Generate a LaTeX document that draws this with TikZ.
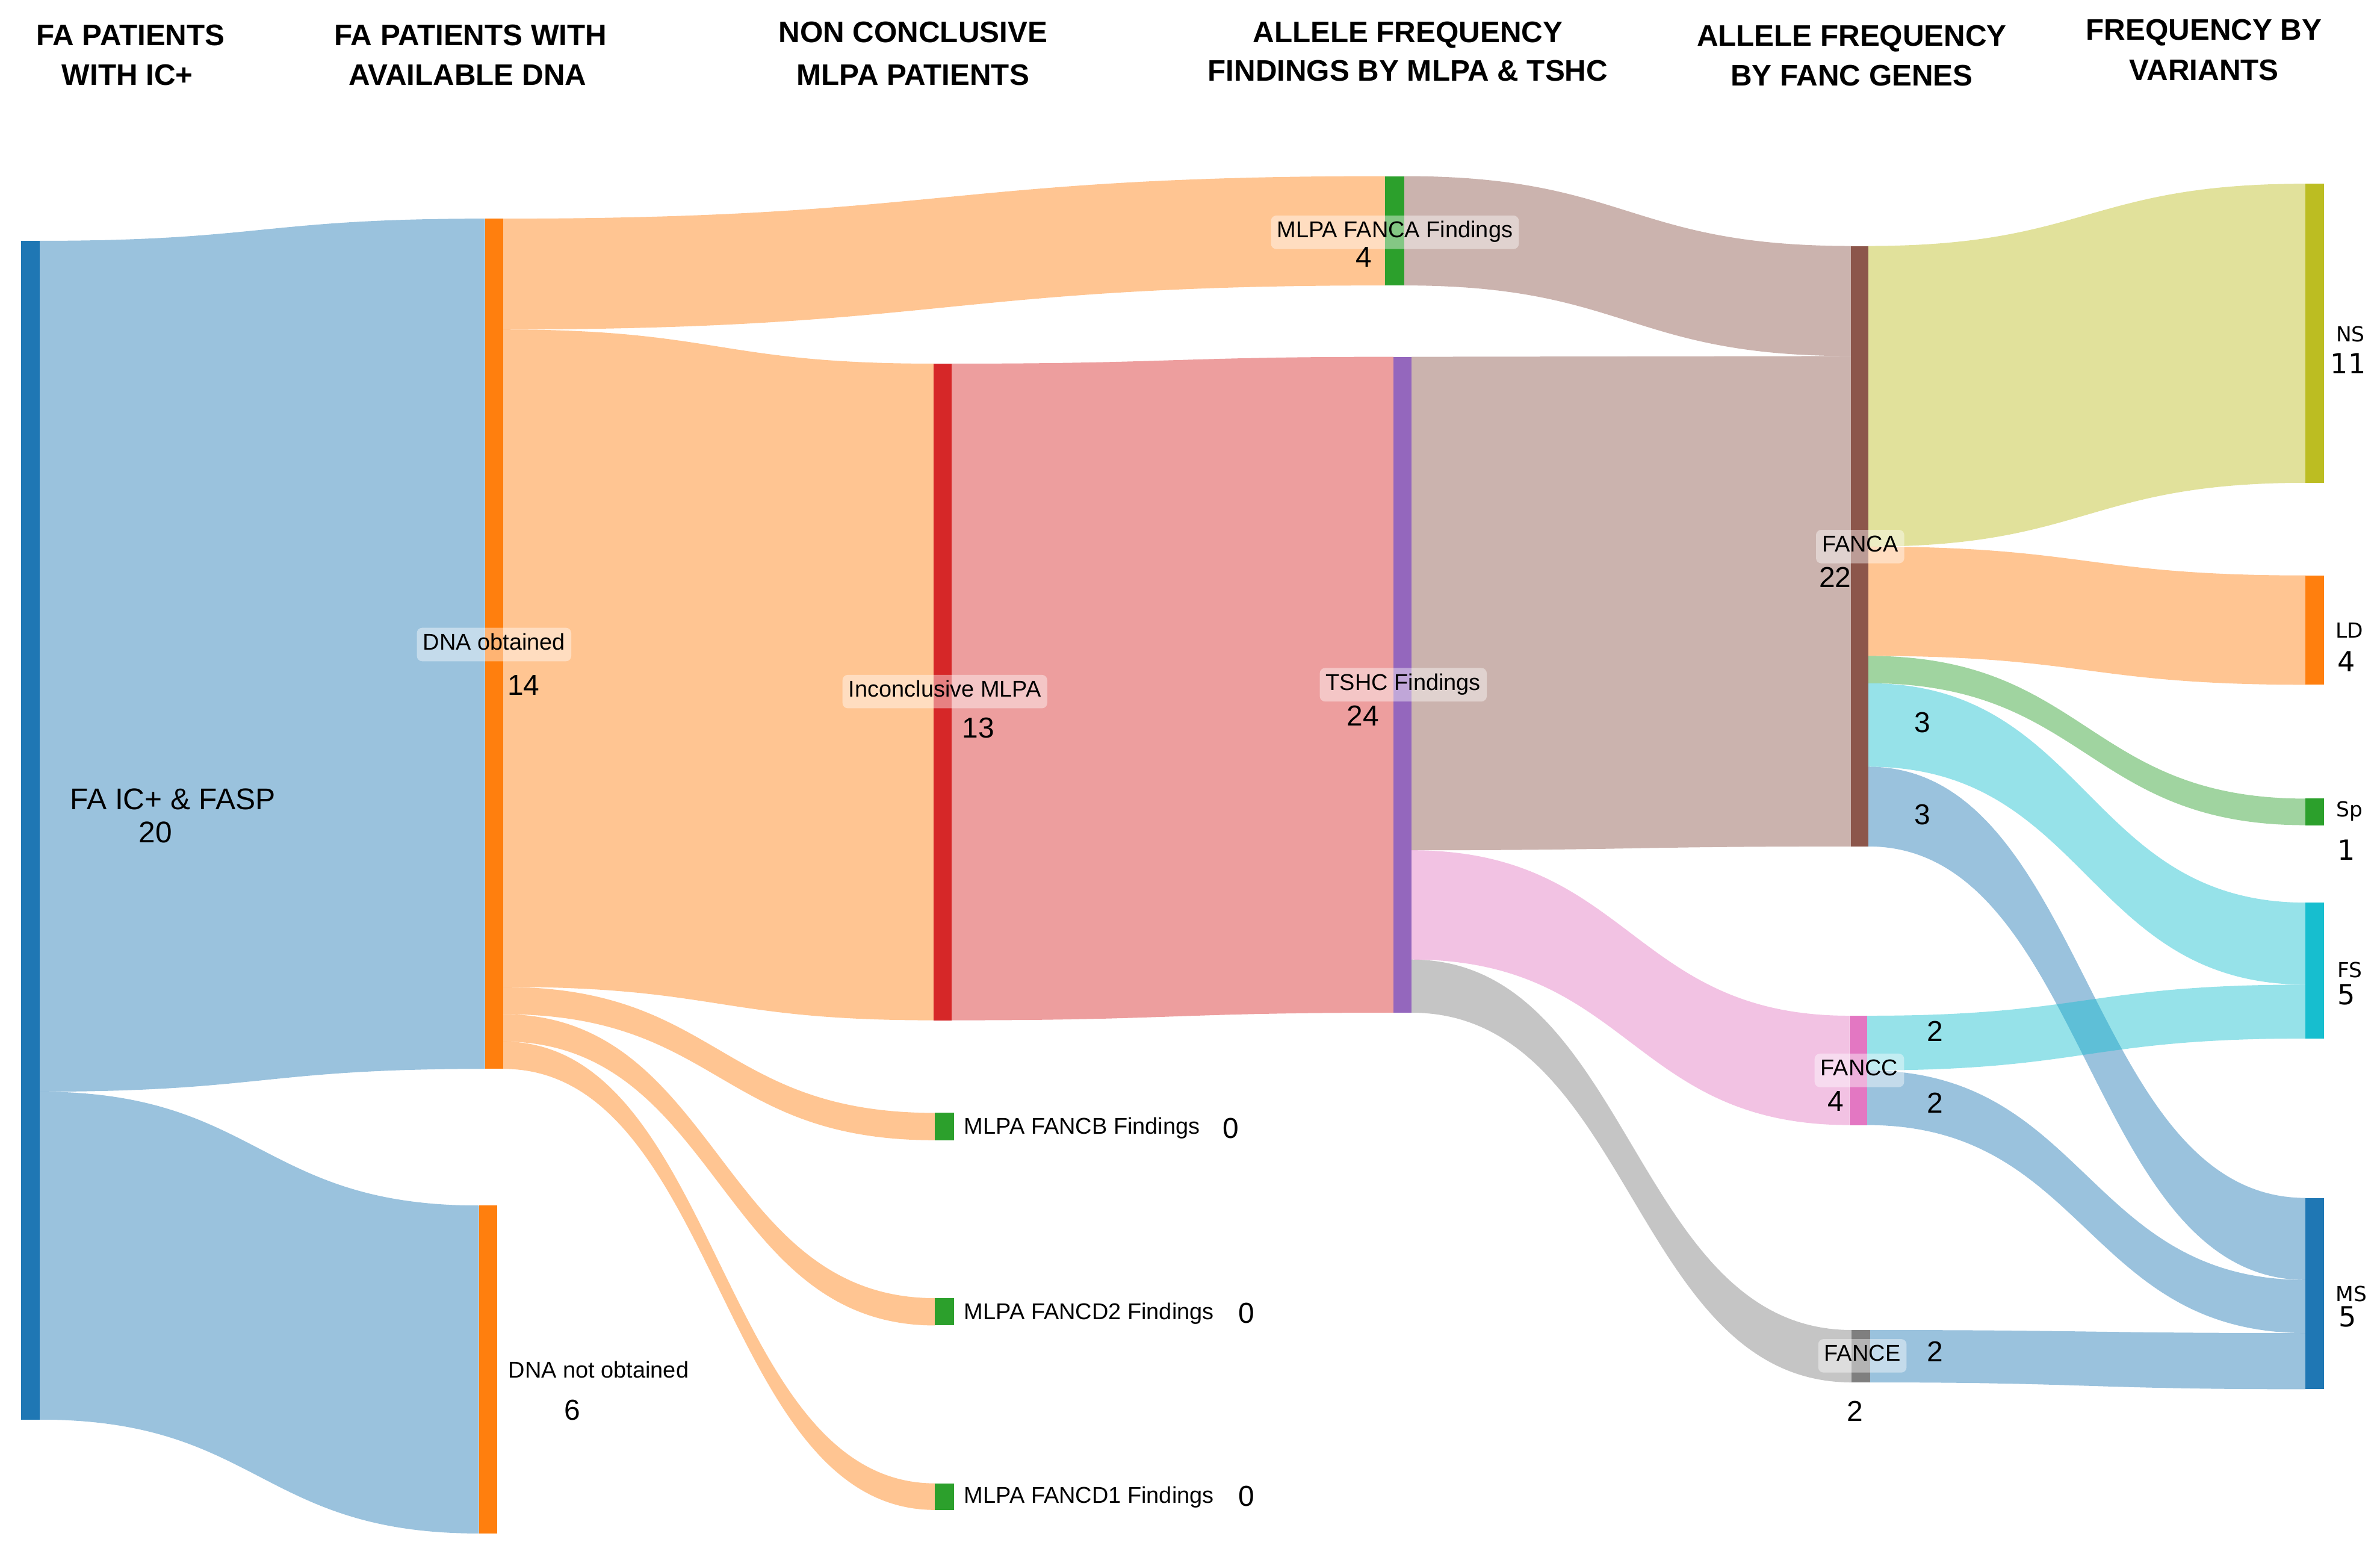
\documentclass[tikz,border=0pt]{standalone}
\usepackage{fontspec}
\setmainfont{Liberation Sans}
\newfontfamily\dejavu{DejaVu Sans}
\usetikzlibrary{fit,calc}
\pgfdeclarelayer{links}
\pgfsetlayers{links,main}
\definecolor{cblue}{HTML}{1F77B4}
\definecolor{corange}{HTML}{FF7F0E}
\definecolor{cgreen}{HTML}{2CA02C}
\definecolor{cred}{HTML}{D62728}
\definecolor{cpurple}{HTML}{9467BD}
\definecolor{cbrown}{HTML}{8C564B}
\definecolor{cpink}{HTML}{E377C2}
\definecolor{cgray}{HTML}{7F7F7F}
\definecolor{colive}{HTML}{BCBD22}
\definecolor{ccyan}{HTML}{17BECF}
\newcommand\skbar[6]{\node[inner sep=0pt, outer sep=0pt, fill=#6, fit={(#2,#3) (#4,#5)}] (#1) {};}
\newcommand\sklink[7]{%
  \begin{pgfonlayer}{links}
  \fill[#7, fill opacity=0.45] let \p1=(#1.east), \p2=(#4.west) in
    (\x1,#2) .. controls ({0.5*\x1+0.5*\x2},#2) and ({0.5*\x1+0.5*\x2},#5) .. (\x2,#5)
    -- (\x2,#6) .. controls ({0.5*\x1+0.5*\x2},#6) and ({0.5*\x1+0.5*\x2},#3) .. (\x1,#3) -- cycle;
  \end{pgfonlayer}}
\tikzset{
  hdr/.style={inner sep=0pt, anchor=base, font=\bfseries\fontsize{13.9}{15}\selectfont},
  lab/.style={inner sep=0pt, anchor=base west, font=\fontsize{10.7}{12}\selectfont},
  biglab/.style={inner sep=0pt, anchor=base west, font=\fontsize{14}{16}\selectfont},
  lbox/.style={fill=white, fill opacity=0.42, text opacity=1, rounded corners=2.5pt,
    inner xsep=0.1cm, inner ysep=0.1cm, text height=0.75em, text depth=0.25em,
    font=\fontsize{10.7}{12}\selectfont},
  num/.style={inner sep=0pt, anchor=base, font=\fontsize{13.5}{15}\selectfont},
  rlab/.style={inner sep=0pt, anchor=base, font=\dejavu\fontsize{9.7}{11}\selectfont},
  rnum/.style={inner sep=0pt, anchor=base, font=\dejavu\fontsize{13}{15}\selectfont}
}
\begin{document}
\begin{tikzpicture}[x=0.025cm, y=-0.025cm]
\useasboundingbox (0,0) rectangle (1568,1025.5);
% headers
\node[hdr] (h1a) at (86,30) {FA PATIENTS};
\node[hdr] (h1b) at (84,56) {WITH IC+};
\node[hdr] (h2a) at (310,30) {FA PATIENTS WITH};
\node[hdr] (h2b) at (308,56) {AVAILABLE DNA};
\node[hdr] (h3a) at (601.5,28) {NON CONCLUSIVE};
\node[hdr] (h3b) at (601.5,56) {MLPA PATIENTS};
\node[hdr] (h4a) at (927.5,28) {ALLELE FREQUENCY};
\node[hdr] (h4b) at (927.5,53.5) {FINDINGS BY MLPA \& TSHC};
\node[hdr] (h5a) at (1220,30.5) {ALLELE FREQUENCY};
\node[hdr] (h5b) at (1220,56.5) {BY FANC GENES};
\node[hdr] (h6a) at (1452,26.5) {FREQUENCY BY};
\node[hdr] (h6b) at (1452,53) {VARIANTS};
% bars
\skbar{faic}{14}{158.6}{26}{935}{cblue}
\skbar{dnao}{319.5}{144}{331.5}{704}{corange}
\skbar{dnan}{315.5}{794}{327.5}{1010}{corange}
\skbar{inc}{615}{239.5}{627}{672}{cred}
\skbar{fancb}{616}{733}{628.5}{751}{cgreen}
\skbar{fancdtwo}{616}{855}{628.5}{873}{cgreen}
\skbar{fancdone}{616}{977}{628.5}{994.5}{cgreen}
\skbar{mfanca}{912.5}{116}{925}{188}{cgreen}
\skbar{tshc}{918}{235}{930}{667}{cpurple}
\skbar{fanca}{1219.5}{162}{1231}{557.5}{cbrown}
\skbar{fancc}{1218.5}{669}{1230}{741}{cpink}
\skbar{fance}{1220}{876}{1232}{910.5}{cgray}
\skbar{ns}{1519}{121}{1531}{318}{colive}
\skbar{ld}{1519}{379}{1531}{451}{corange}
\skbar{sp}{1519}{526}{1531}{543.5}{cgreen}
\skbar{fs}{1519}{594.5}{1531}{684}{ccyan}
\skbar{ms}{1519}{789}{1531}{915}{cblue}
% links
\sklink{faic}{158.6}{719}{dnao}{144}{704}{cblue}
\sklink{faic}{719}{935}{dnan}{794}{1010}{cblue}
\sklink{dnao}{144}{217}{mfanca}{116}{188}{corange}
\sklink{dnao}{217}{650}{inc}{239.5}{672}{corange}
\sklink{dnao}{650}{668}{fancb}{733}{751}{corange}
\sklink{dnao}{668}{686}{fancdtwo}{855}{873}{corange}
\sklink{dnao}{686}{704}{fancdone}{977}{994.5}{corange}
\sklink{inc}{239.5}{672}{tshc}{235}{667}{cred}
\sklink{mfanca}{116}{188}{fanca}{162}{234.5}{cbrown}
\sklink{tshc}{235}{560}{fanca}{234.5}{557.5}{cbrown}
\sklink{tshc}{560}{632}{fancc}{669}{741}{cpink}
\sklink{tshc}{632}{667}{fance}{876}{910.5}{cgray}
\sklink{fanca}{162}{360}{ns}{121}{318}{colive}
\sklink{fanca}{360}{432}{ld}{379}{451}{corange}
\sklink{fanca}{432}{450}{sp}{526}{543.5}{cgreen}
\sklink{fanca}{450}{505}{fs}{594.5}{648.5}{ccyan}
\sklink{fanca}{505}{557.5}{ms}{789}{843}{cblue}
\sklink{fancc}{669}{705}{fs}{648.5}{684}{ccyan}
\sklink{fancc}{705}{741}{ms}{843}{878}{cblue}
\sklink{fance}{876}{910.5}{ms}{878}{915}{cblue}
% node labels
\node[biglab] (tfaic) at (46,533) {FA IC+ \& FASP};
\node[num, font=\fontsize{14}{16}\selectfont] (vfaic) at (102.5,555) {20};
\node[lbox] (tdnao) at (325.5,424.5) {DNA obtained};
\node[num] (vdnao) at (345,458) {14};
\node[lab] (tdnan) at (334.7,907.6) {DNA not obtained};
\node[num] (vdnan) at (377,935.4) {6};
\node[lbox] (tinc) at (622.5,455.5) {Inconclusive MLPA};
\node[num] (vinc) at (644.5,486) {13};
\node[lab] (tfancb) at (635,747) {MLPA FANCB Findings};
\node[num] (vfancb) at (811,749.5) {0};
\node[lab] (tfancdtwo) at (635,869) {MLPA FANCD2 Findings};
\node[num] (vfancdtwo) at (821,871.5) {0};
\node[lab] (tfancdone) at (635,990) {MLPA FANCD1 Findings};
\node[num] (vfancdone) at (821,992) {0};
\node[lbox] (tmfanca) at (919,153) {MLPA FANCA Findings};
\node[num] (vmfanca) at (898.5,176) {4};
\node[lbox] (ttshc) at (924.5,451) {TSHC Findings};
\node[num] (vtshc) at (898,478) {24};
\node[lbox] (tfanca) at (1225.5,360) {FANCA};
\node[num] (vfanca) at (1209,387) {22};
\node[lbox] (tfancc) at (1225,705) {FANCC};
\node[num] (vfancc) at (1209.5,732) {4};
\node[lbox] (tfance) at (1227,893) {FANCE};
\node[num] (vfance) at (1222,936) {2};
\node[rlab] (tns) at (1548.5,225) {NS};
\node[rnum] (vns) at (1547,246) {11};
\node[rlab] (tld) at (1548,420) {LD};
\node[rnum] (vld) at (1546,442.5) {4};
\node[rlab] (tsp) at (1548,538) {Sp};
\node[rnum] (vsp) at (1546,566.5) {1};
\node[rlab] (tfs) at (1548,644) {FS};
\node[rnum] (vfs) at (1546,661.5) {5};
\node[rlab] (tms) at (1549,857) {MS};
\node[rnum] (vms) at (1546.5,874) {5};
% link labels
\node[num] (la) at (1266.5,482.5) {3};
\node[num] (lb) at (1266.5,543) {3};
\node[num] (lc) at (1275,686) {2};
\node[num] (ld2) at (1275,733) {2};
\node[num] (le) at (1275,897) {2};
\end{tikzpicture}
\end{document}
